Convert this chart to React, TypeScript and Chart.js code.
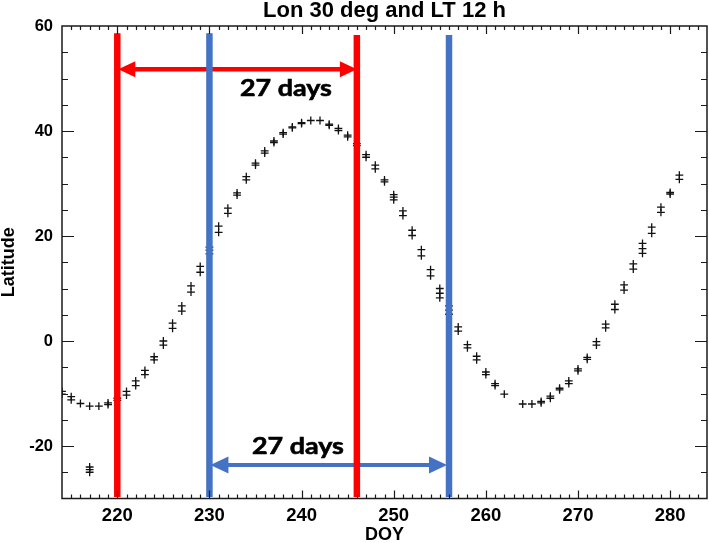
import React, { useEffect, useRef } from 'react';
import { Chart, registerables } from 'chart.js';

Chart.register(...registerables);

// ---------- data ----------
const TITLE = 'Lon 30 deg and LT 12 h';
const X_LABEL = 'DOY';
const Y_LABEL = 'Latitude';

const doy = [
  214, 215, 216, 217, 218, 219, 220, 221, 222, 223, 224, 225, 226, 227, 228, 229,
  230, 231, 232, 233, 234, 235, 236, 237, 238, 239, 240, 241, 242, 243, 244, 245,
  246, 247, 248, 249, 250, 251, 252, 253, 254, 255, 256, 257, 258, 259, 260, 261,
  262, 264, 265, 266, 267, 268, 269, 270, 271, 272, 273, 274, 275, 276, 277, 278,
  279, 280, 281,
];

// first sample of each day
const latA = [
  -9.6, -10.6, -11.9, -12.4, -12.4, -11.8, -10.9, -9.6, -7.6, -5.6, -3.0, 0.0, 3.4, 6.7, 10.5, 14.2,
  17.9, 21.9, 25.3, 28.2, 31.3, 33.9, 36.2, 38.1, 39.7, 40.8, 41.6, 42.0, 42.0, 41.3, 40.5, 39.2,
  37.6, 35.5, 33.5, 30.7, 27.9, 24.8, 21.1, 17.4, 13.6, 10.0, 6.7, 2.7, -0.7, -2.9, -5.9, -8.1,
  -10.1, -12.0, -12.0, -11.5, -10.5, -9.0, -7.6, -5.3, -3.1, -0.1, 3.2, 7.0, 10.7, 14.7, 18.6, 21.7,
  25.5, 28.3, 31.6,
];

// second sample of each day (null = none)
const latB = [
  -10.1, -11.2, null, null, null, -12.1, -11.3, -10.3, -8.5, -6.4, -3.6, -0.8, 2.4, 5.7, 9.3, 13.1,
  17.3, 20.7, 24.3, 27.8, 30.7, 33.5, 35.8, 37.8, 39.4, 40.6, 41.4, null, null, 41.1, 40.1, 38.9,
  37.2, 35.0, 32.8, 30.3, 27.4, 23.9, 20.1, 16.2, 12.4, 9.1, 5.9, 1.9, -1.3, -3.6, -6.4, -8.5,
  null, null, null, -11.8, -10.9, -9.3, -8.1, -5.7, -3.5, -0.8, 2.5, 6.0, 9.7, 13.7, 17.6, 20.5,
  24.5, 28.0, 30.8,
];

// third sample of each day (null = none)
const latC = [
  null, null, null, null, null, null, null, null, null, null, null, null, null, null, null, null,
  16.6, null, null, null, null, null, null, null, null, null, null, null, null, null, null, null,
  null, null, null, null, 26.9, null, null, null, null, 8.2, 5.1, null, null, null, null, null,
  null, null, null, null, null, null, null, null, null, null, null, null, null, null, 16.7, null,
  null, null, null,
];

const outlierDoy = [217, 217, 217];
const outlierLat = [-24.0, -24.5, -25.0];

// marked 27-day windows
const redLineDoy = [220, 246];
const blueLineDoy = [230, 256];
const spanText = '27 days';

// axis ranges / ticks
const X_MIN = 214;
const X_MAX = 284;
const Y_MIN = -30;
const Y_MAX = 60;
const X_STEP = 1;
const X_LABEL_EVERY = 10;
const Y_STEP = 5;
const Y_LABEL_EVERY = 20;

// ---------- styles / annotation placement ----------
const RED = '#FF0000';
const BLUE = '#4472C4';
const LINE_BOTTOM = -29.7;
const RED_TOPS = [58.6, 58.3];
const BLUE_TOPS = [58.6, 58.3];
const RED_ARROW_LAT = 51.75;
const BLUE_ARROW_LAT = -23.6;
const RED_TEXT_POS = { x: 238.3, y: 46.7 };
const BLUE_TEXT_POS = { x: 239.6, y: -21.6 };
const TEXT_WIDTH = 92;
const FONT = '"Liberation Sans", Arial, sans-serif';

const pts = (xs: number[], ys: (number | null)[]) =>
  xs
    .map((x, i) => (ys[i] == null ? null : { x, y: ys[i] as number }))
    .filter((p) => p !== null) as { x: number; y: number }[];

const markerStyle = {
  showLine: false,
  pointStyle: 'cross' as const,
  pointRadius: 3.9,
  pointHoverRadius: 3.9,
  pointBorderWidth: 1.3,
  pointBorderColor: '#111',
  pointBackgroundColor: '#111',
  clip: 0,
  order: 2,
};

function drawArrow(ctx: CanvasRenderingContext2D, x1: number, x2: number, y: number, color: string, w: number, hl: number, hh: number) {
  ctx.save();
  ctx.strokeStyle = color;
  ctx.fillStyle = color;
  ctx.lineWidth = w;
  ctx.beginPath();
  ctx.moveTo(x1 + hl - 2, y);
  ctx.lineTo(x2 - hl + 2, y);
  ctx.stroke();
  ctx.beginPath();
  ctx.moveTo(x1, y);
  ctx.lineTo(x1 + hl, y - hh);
  ctx.lineTo(x1 + hl, y + hh);
  ctx.closePath();
  ctx.fill();
  ctx.beginPath();
  ctx.moveTo(x2, y);
  ctx.lineTo(x2 - hl, y - hh);
  ctx.lineTo(x2 - hl, y + hh);
  ctx.closePath();
  ctx.fill();
  ctx.restore();
}

function drawStretchedText(ctx: CanvasRenderingContext2D, text: string, cx: number, baseline: number, width: number) {
  ctx.save();
  ctx.font = 'bold 23.5px Lato, "Open Sans", sans-serif';
  ctx.fillStyle = '#000';
  const w = ctx.measureText(text).width;
  ctx.translate(cx, baseline);
  ctx.scale(width / w, 1);
  ctx.textAlign = 'center';
  ctx.textBaseline = 'alphabetic';
  ctx.lineWidth = 0.6;
  ctx.strokeStyle = '#000';
  ctx.fillText(text, 0, 0);
  ctx.strokeText(text, 0, 0);
  ctx.restore();
}

const annotationPlugin = {
  id: 'annotations27',
  beforeDatasetsDraw(chart: any) {
    const { ctx, scales } = chart;
    const xs = scales.x;
    const ys = scales.y;
    drawArrow(ctx, xs.getPixelForValue(redLineDoy[0]) + 1, xs.getPixelForValue(redLineDoy[1]), ys.getPixelForValue(RED_ARROW_LAT), RED, 4.5, 17, 8);
    drawArrow(ctx, xs.getPixelForValue(blueLineDoy[0]) + 1, xs.getPixelForValue(blueLineDoy[1]) - 2, ys.getPixelForValue(BLUE_ARROW_LAT), BLUE, 4, 18, 8.5);
  },
  afterDatasetsDraw(chart: any) {
    const { ctx, scales, chartArea } = chart;
    const xs = scales.x;
    const ys = scales.y;
    drawStretchedText(ctx, spanText, xs.getPixelForValue(RED_TEXT_POS.x), ys.getPixelForValue(RED_TEXT_POS.y), TEXT_WIDTH);
    drawStretchedText(ctx, spanText, xs.getPixelForValue(BLUE_TEXT_POS.x), ys.getPixelForValue(BLUE_TEXT_POS.y), TEXT_WIDTH);

    // frame + inward ticks on all four sides
    const { left, right, top, bottom } = chartArea;
    ctx.save();
    ctx.strokeStyle = '#1a1a1a';
    ctx.lineWidth = 1.2;
    ctx.beginPath();
    for (const t of xs.ticks) {
      const v = t.value;
      if (v <= X_MIN || v >= X_MAX) continue;
      const px = Math.round(xs.getPixelForValue(v)) + 0.5;
      const len = v % X_LABEL_EVERY === 0 ? 8 : 4;
      ctx.moveTo(px, bottom);
      ctx.lineTo(px, bottom - len);
      ctx.moveTo(px, top);
      ctx.lineTo(px, top + len);
    }
    for (const t of ys.ticks) {
      const v = t.value;
      if (v <= Y_MIN || v >= Y_MAX) continue;
      const py = Math.round(ys.getPixelForValue(v)) + 0.5;
      const len = v % Y_LABEL_EVERY === 0 ? 12 : 6;
      ctx.moveTo(left, py);
      ctx.lineTo(left + len, py);
      ctx.moveTo(right, py);
      ctx.lineTo(right - len, py);
    }
    ctx.stroke();
    ctx.lineWidth = 1.5;
    ctx.strokeRect(left, top, right - left, bottom - top);
    ctx.restore();
  },
};

const vline = (x: number, yTop: number, color: string) => ({
  data: [
    { x, y: LINE_BOTTOM },
    { x, y: yTop },
  ],
  showLine: true,
  borderColor: color,
  borderWidth: 6.5,
  borderCapStyle: 'butt' as const,
  pointRadius: 0,
  pointHoverRadius: 0,
  clip: false as const,
  order: 1,
});

export default function App() {
  const ref = useRef<HTMLCanvasElement | null>(null);

  useEffect(() => {
    if (!ref.current) return;
    const chart = new Chart(ref.current, {
      type: 'scatter',
      data: {
        datasets: [
          vline(redLineDoy[0], RED_TOPS[0], RED),
          vline(redLineDoy[1], RED_TOPS[1], RED),
          vline(blueLineDoy[0], BLUE_TOPS[0], BLUE),
          vline(blueLineDoy[1], BLUE_TOPS[1], BLUE),
          { ...markerStyle, data: pts(doy, latA) },
          { ...markerStyle, data: pts(doy, latB) },
          { ...markerStyle, data: pts(doy, latC) },
          { ...markerStyle, data: pts(outlierDoy, outlierLat) },
        ] as any,
      },
      options: {
        animation: false,
        responsive: false,
        events: [],
        layout: { padding: { left: 0, right: 2, top: 0, bottom: 0 }, autoPadding: false },
        plugins: {
          legend: { display: false },
          tooltip: { enabled: false },
          title: {
            display: true,
            fullSize: false,
            text: TITLE,
            color: '#000',
            font: { family: FONT, size: 22, weight: 'bold', lineHeight: '21px' },
            padding: { top: 0, bottom: 5 },
          },
        },
        scales: {
          x: {
            type: 'linear',
            min: X_MIN,
            max: X_MAX,
            grid: { display: false, drawTicks: false },
            border: { display: false },
            ticks: {
              stepSize: X_STEP,
              autoSkip: false,
              maxRotation: 0,
              minRotation: 0,
              includeBounds: false,
              padding: 6,
              color: '#000',
              font: { family: FONT, size: 18.5, weight: 'bold' },
              callback: (v: any) => (Number(v) % X_LABEL_EVERY === 0 ? String(v) : ''),
            },
            title: {
              display: true,
              text: X_LABEL,
              color: '#000',
              font: { family: FONT, size: 18, weight: 'bold', lineHeight: '15px' },
              padding: { top: 0, bottom: 0 },
            },
            afterFit: (s: any) => {
              s.height = 44.5;
              s.paddingLeft = 0;
              s.paddingRight = 0;
            },
          },
          y: {
            type: 'linear',
            min: Y_MIN,
            max: Y_MAX,
            grid: { display: false, drawTicks: false },
            border: { display: false },
            ticks: {
              stepSize: Y_STEP,
              autoSkip: false,
              includeBounds: false,
              padding: 9,
              color: '#000',
              font: { family: FONT, size: 16.5, weight: 'bold' },
              callback: (v: any) => (Number(v) % Y_LABEL_EVERY === 0 ? String(v) : ''),
            },
            title: {
              display: true,
              text: Y_LABEL,
              color: '#000',
              font: { family: FONT, size: 18, weight: 'bold', lineHeight: '19px' },
              padding: { top: 0, bottom: 0 },
            },
            afterFit: (s: any) => {
              s.width = 62;
              s.paddingTop = 0;
              s.paddingBottom = 0;
            },
          },
        },
      } as any,
      plugins: [annotationPlugin],
    });
    return () => chart.destroy();
  }, []);

  return (
    <div style={{ position: 'absolute', left: 0, top: 0, width: 709, height: 543, background: '#fff' }}>
      <canvas ref={ref} width={709} height={543} style={{ display: 'block' }} />
    </div>
  );
}
